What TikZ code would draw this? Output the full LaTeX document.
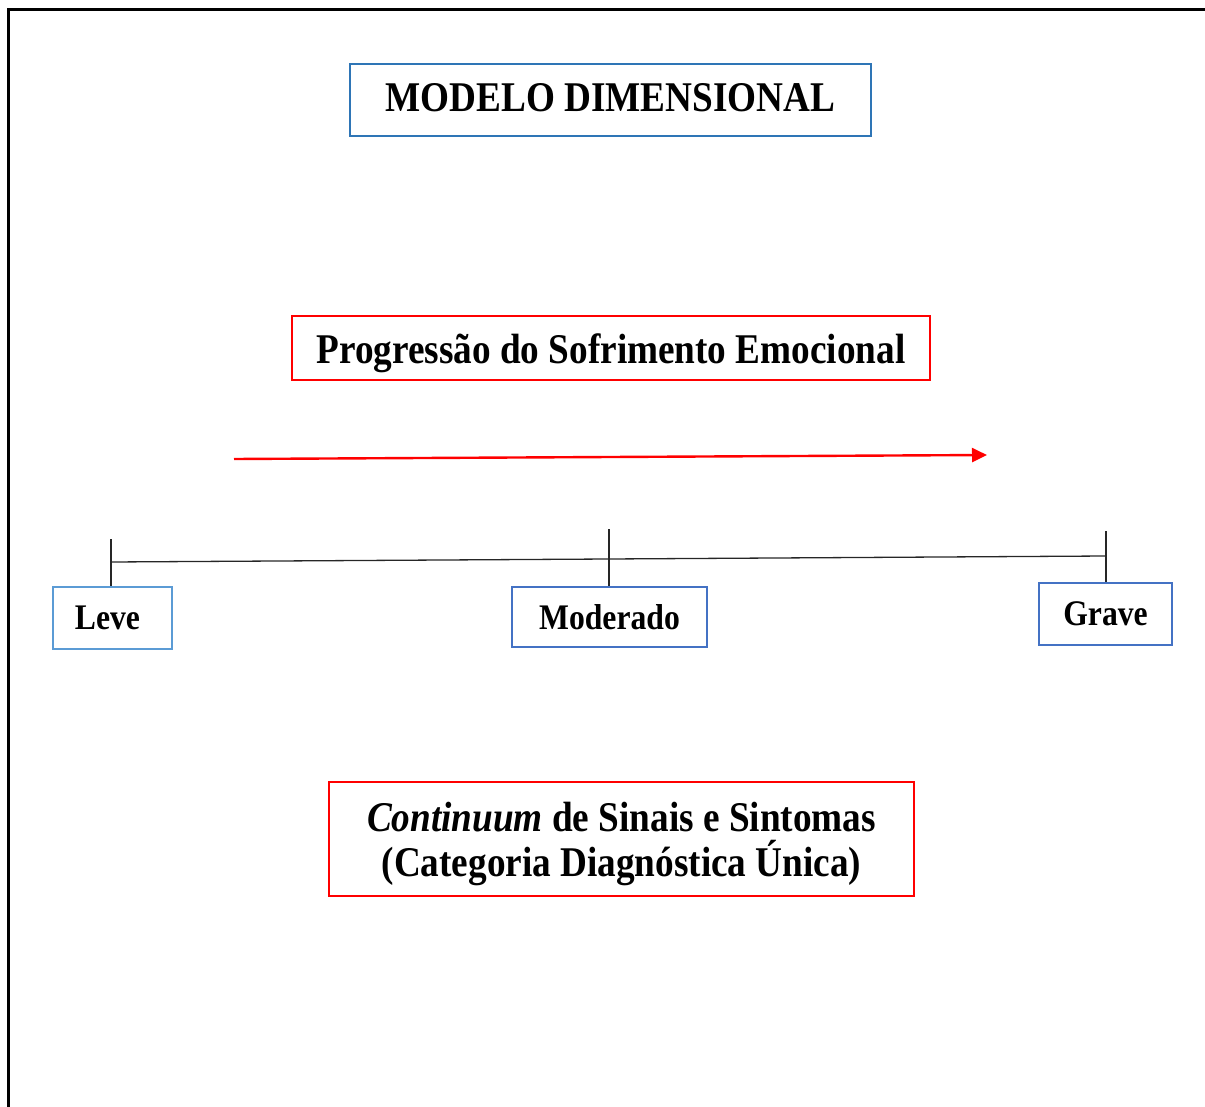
\documentclass[tikz,border=0pt]{standalone}
\usepackage{fontspec}
\setmainfont{Liberation Serif}[FakeStretch=0.88]
\usetikzlibrary{arrows.meta}
\definecolor{titleblue}{HTML}{2E75B6}
\definecolor{lightblue}{HTML}{5B9BD5}
\definecolor{midblue}{HTML}{4472C4}
\definecolor{boxred}{HTML}{FF0000}
\newcommand{\shiftdown}[2]{\raisebox{-#1}[\height][\depth]{#2}}
\tikzset{
  box/.style={draw, line width=2.4pt, rectangle, inner sep=0pt, align=center, font=\fontsize{42.3}{45}\selectfont\bfseries},
  levelbox/.style={draw, line width=2.4pt, rectangle, inner sep=0pt, align=center, font=\fontsize{36}{40}\selectfont\bfseries},
  scaleline/.style={line width=1.3pt, draw=black!85},
}
\begin{document}
\begin{tikzpicture}[x=1pt,y=-1pt]
\useasboundingbox (0,0) rectangle (1205,1107);
% outer frame (left and top edges)
\draw[line width=3pt, line cap=rect] (8,1115) -- (8,10) -- (1215,10);

\node[box, draw=titleblue, minimum width=521pt, minimum height=72pt] (title) at (610.5,100) {\shiftdown{-2pt}{MODELO DIMENSIONAL}};
\node[box, draw=boxred, minimum width=638pt, minimum height=64pt] (prog) at (611,348) {\shiftdown{5pt}{Progressão do Sofrimento Emocional}};

\coordinate (as) at (234,459);
\coordinate (ae) at (987,455);
\draw[boxred, line width=2.4pt, -{Triangle[length=15pt,width=14pt]}] (as) -- (ae);

\node[levelbox, draw=lightblue, minimum width=119pt, minimum height=62pt] (leve) at (112.5,618) {\hspace*{-10pt}Leve};
\node[levelbox, draw=midblue, minimum width=195pt, minimum height=60pt] (mod) at (609.5,617) {Moderado};
\node[levelbox, draw=midblue, minimum width=133pt, minimum height=62pt] (grave) at (1105.5,614) {Grave};

\coordinate (lt) at (111,539);
\coordinate (mt) at (609,529);
\coordinate (gt) at (1106,531);
\coordinate (lj) at (111,562);
\coordinate (gj) at (1106,556);
\draw[scaleline] (lj) -- (gj);
\draw[scaleline] (lt) -- (leve.north -| lt);
\draw[scaleline] (mt) -- (mod.north -| mt);
\draw[scaleline] (gt) -- (grave.north -| gt);

\node[box, draw=boxred, minimum width=585pt, minimum height=114pt] (cont) at (621.5,839)
  {\shiftdown{5pt}{\itshape Continuum\/ \upshape de Sinais e Sintomas}\\\shiftdown{5pt}{(Categoria Diagnóstica Única)}};
\end{tikzpicture}
\end{document}
